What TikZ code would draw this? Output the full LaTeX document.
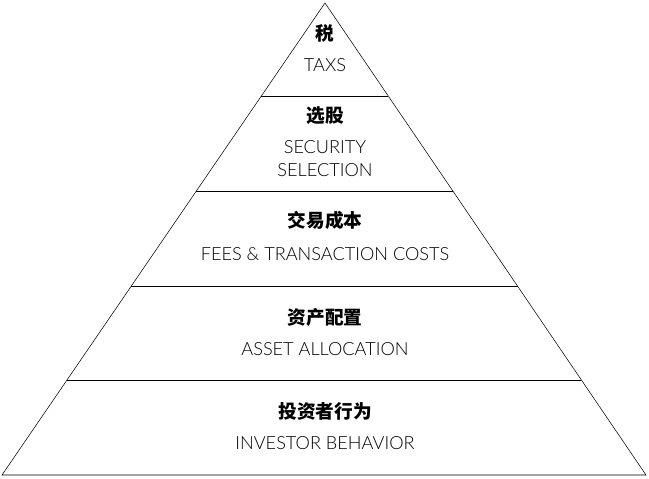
\documentclass[tikz,border=0pt]{standalone}
\usepackage{fontspec}
\setmainfont{Lato}[UprightFont=* Light]
\newfontfamily\cjk{Noto Sans CJK SC}
\usetikzlibrary{calc}
\usetikzlibrary{positioning}

\begin{document}
\begin{tikzpicture}[
x=0.75pt,y=-0.75pt,
Edges/.style={draw=black,thin},
Levels/.style={draw=black,thin},
CnText/.style={font=\cjk\bfseries\fontsize{14}{15}\selectfont,inner sep=0pt},
EnText/.style={font=\fontsize{13.6}{17}\selectfont,inner sep=0pt,align=center}
]
\useasboundingbox (0,0) rectangle (649,478);

% corners of the pyramid
\coordinate (Top) at (325,3);
\coordinate (L) at (2,475);
\coordinate (R) at (646,475);

\draw[Edges] (Top)--(L)--(R)--cycle;

% the four dividing lines
\foreach \t in {0.197,0.399,0.6,0.799}
  \draw[Levels] ($(Top)!\t!(L)$)--($(Top)!\t!(R)$);

% labels of each layer
\node[CnText] (tax) at (325,33) {税};
\node[EnText] (taxEn) at (325,65) {TAXS};

\node[CnText] (sec) at (325,116) {选股};
\node[EnText] (secEn) at (325,158.5) {SECURITY\\SELECTION};

\node[CnText] (fee) at (325,220.5) {交易成本};
\node[EnText] (feeEn) at (325,254) {FEES \& TRANSACTION COSTS};

\node[CnText] (asset) at (325,317) {资产配置};
\node[EnText] (assetEn) at (325,349) {ASSET ALLOCATION};

\node[CnText] (inv) at (325,411) {投资者行为};
\node[EnText] (invEn) at (325,443) {INVESTOR BEHAVIOR};

\end{tikzpicture}
\end{document}
